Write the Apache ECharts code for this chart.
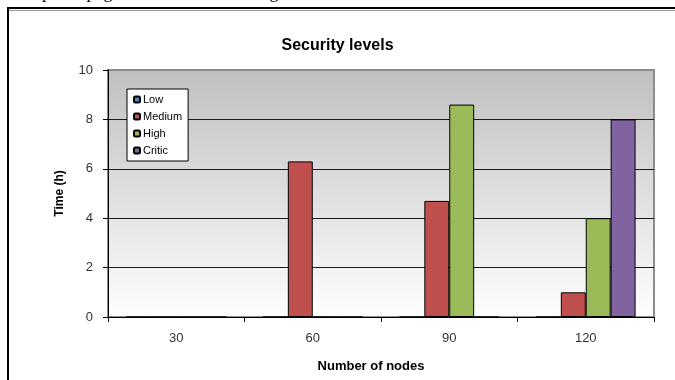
<!DOCTYPE html>
<html>
<head>
<meta charset="utf-8">
<script src="https://cdn.jsdelivr.net/npm/echarts@6/dist/echarts.min.js"></script>
<style>
  html, body { margin: 0; padding: 0; background: #fff; }
  #chart { width: 675px; height: 380px; }
</style>
</head>
<body>
<div id="chart"></div>
<script>
// Node counts on the x axis
var categories = ['30', '60', '90', '120'];
// Time in hours per security level
var lowValues = [0, 0, 0, 0];
var mediumValues = [0, 6.3, 4.7, 1.0];
var highValues = [0, 0, 8.6, 4.0];
var criticValues = [0, 0, 0, 8.0];
var yTicks = { min: 0, max: 10, step: 2 };

var seriesDefs = [
  { name: 'Low', data: lowValues, color: '#4f81bd' },
  { name: 'Medium', data: mediumValues, color: '#c0504d' },
  { name: 'High', data: highValues, color: '#9bbb59' },
  { name: 'Critic', data: criticValues, color: '#8064a2' }
];

var font = 'Arial, "Liberation Sans", sans-serif';
var chart = echarts.init(document.getElementById('chart'), null, { renderer: 'canvas' });

chart.setOption({
  animation: false,
  backgroundColor: '#ffffff',
  title: {
    text: 'Security levels',
    left: 'center',
    top: 33,
    textStyle: { fontFamily: font, fontSize: 16, fontWeight: 'bold', color: '#000' }
  },
  legend: {
    orient: 'vertical',
    left: 127,
    top: 89,
    padding: [5, 6, 5, 6],
    itemWidth: 6,
    itemHeight: 6,
    itemGap: 6,
    backgroundColor: '#ffffff',
    borderColor: '#000',
    borderWidth: 1,
    textStyle: { fontFamily: font, fontSize: 11, color: '#000', padding: [0, 0, 0, -2] },
    data: seriesDefs.map(function (s) { return s.name; })
  },
  grid: {
    left: 108,
    top: 70,
    right: 21,
    bottom: 63,
    show: true,
    borderWidth: 2,
    borderColor: '#8c8c8c',
    backgroundColor: new echarts.graphic.LinearGradient(0, 0, 0, 1, [
      { offset: 0, color: '#bfbfbf' },
      { offset: 1, color: '#ffffff' }
    ])
  },
  xAxis: {
    type: 'category',
    data: categories,
    name: 'Number of nodes',
    nameLocation: 'middle',
    nameGap: 43,
    nameTextStyle: { fontFamily: font, fontSize: 13, fontWeight: 'bold', color: '#000', padding: [0, 20, 0, 0] },
    axisLine: { lineStyle: { color: '#000', width: 1 } },
    axisTick: { show: true, length: 5, lineStyle: { color: '#000' } },
    axisLabel: { fontFamily: font, fontSize: 13, color: '#333', margin: 15 }
  },
  yAxis: {
    type: 'value',
    min: yTicks.min,
    max: yTicks.max,
    interval: yTicks.step,
    name: 'Time (h)',
    nameLocation: 'middle',
    nameGap: 42,
    nameTextStyle: { fontFamily: font, fontSize: 12, fontWeight: 'bold', color: '#000' },
    axisLine: { show: true, lineStyle: { color: '#000', width: 1 } },
    axisTick: { show: true, length: 5, lineStyle: { color: '#000' } },
    axisLabel: { fontFamily: font, fontSize: 13, color: '#333', margin: 15 },
    splitLine: { show: true, lineStyle: { color: ['#000', '#1a1a1a', '#1a1a1a', '#1a1a1a', '#1a1a1a', '#8c8c8c'], width: 1 } }
  },
  graphic: [
    {
      type: 'text',
      x: 33,
      y: -7,
      silent: true,
      style: {
        text: 'up in a page that is shown in the given chart',
        font: '18px "Liberation Serif", "Times New Roman", serif',
        verticalAlign: 'middle',
        fill: '#000'
      }
    },
    {
      type: 'rect',
      shape: { x: 8, y: 8, width: 700, height: 420 },
      silent: true,
      style: { fill: 'none', stroke: '#000', lineWidth: 2 }
    },
    {
      type: 'line',
      shape: { x1: 9, y1: 10.5, x2: 675, y2: 10.5 },
      silent: true,
      style: { stroke: '#9a9a9a', lineWidth: 1 }
    }
  ],
  series: seriesDefs.map(function (s) {
    return {
      name: s.name,
      type: 'bar',
      data: s.data,
      barGap: '0%',
      barCategoryGap: '27%',
      itemStyle: { color: s.color, borderColor: '#000', borderWidth: 1 }
    };
  })
});
</script>
</body>
</html>
